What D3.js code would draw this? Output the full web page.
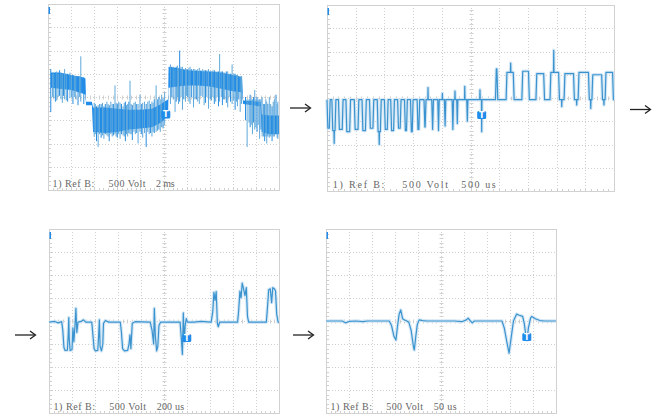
<!DOCTYPE html>
<html>
<head>
<meta charset="utf-8">
<script src="https://cdn.jsdelivr.net/npm/d3@7"></script>
<style>
body { margin: 0; background: #fff; }
svg { display: block; }
</style>
</head>
<body>
<script>
//Chart data (all in screen divisions: x 0..10, y -4..4)

const channelLabel = "1) Ref B:";
const voltLabel = "500 Volt";
const timeLabels = ["2 ms", "500 us", "200 us", "50 us"];

// panel 1: dense PWM band [x, top, bottom] + single spikes [x, y0, y1]
const p1Core = [
    [0.12, 1.05, 0.4], [0.5, 1.05, 0.35], [1.0, 0.95, 0.3], [1.5, 0.85, 0.15], [1.62, 0.8, 0.1],
    [1.65, -0.2, -0.35], [1.9, -0.2, -0.35], [1.95, -0.45, -1.5], [2.5, -0.45, -1.55],
    [3.0, -0.5, -1.5], [3.5, -0.55, -1.4], [4.0, -0.55, -1.35], [4.5, -0.5, -1.3],
    [4.9, -0.3, -1.1], [5.2, -0.1, -0.8], [5.22, 1.3, 0.4], [5.6, 1.25, 0.45], [6.0, 1.15, 0.5],
    [6.5, 1.12, 0.5], [7.0, 1.1, 0.45], [7.5, 1.05, 0.35], [8.0, 0.95, 0.25], [8.4, 0.85, 0.2],
    [8.45, -0.15, -0.3], [9.2, -0.2, -0.4], [9.25, -0.75, -1.5], [9.6, -0.8, -1.6], [10, -0.8, -1.6]
];
const p1Spikes = [
    [0.12, 1.2, -0.65], [0.2, 1.0, 0.0], [0.25, 1.0, -0.05], [0.32, 1.05, -0.2], [0.38, 1.1, -0.15],
    [0.44, 1.0, 0.0], [0.5, 1.15, 0.05], [0.56, 1.05, -0.1], [0.62, 1.0, -0.25], [0.67, 1.0, 0.05],
    [0.72, 1.2, -0.1], [0.79, 1.0, -0.15], [0.85, 1.0, -0.2], [0.95, 1.05, -0.05], [1.02, 0.95, 0.0],
    [1.08, 0.95, -0.3], [1.14, 0.9, 0.0], [1.2, 0.9, -0.1], [1.3, 0.9, -0.35], [1.36, 0.9, 0.0],
    [1.42, 1.75, -0.2], [1.55, 0.85, -0.3],
    [2.0, -0.25, -1.7], [2.05, -0.3, -1.6], [2.1, -0.4, -1.9], [2.17, -0.35, -2.15], [2.23, -0.3, -1.6],
    [2.3, -0.3, -1.75], [2.36, -0.25, -1.65], [2.42, -0.4, -1.8], [2.48, -0.3, -1.6], [2.55, -0.2, -1.65],
    [2.6, -0.3, -1.7], [2.65, -0.35, -1.9], [2.72, -0.2, -1.6], [2.78, -0.3, -1.7], [2.84, -0.3, -1.65],
    [2.9, 0.5, -1.6], [2.95, -0.25, -1.7], [3.0, -0.3, -1.75], [3.06, -0.2, -1.6], [3.12, -0.25, -1.8],
    [3.18, -0.3, -1.6], [3.25, -0.4, -1.65], [3.3, -0.25, -1.7], [3.35, -0.2, -1.9], [3.4, -0.35, -1.6],
    [3.45, -0.3, -1.7], [3.5, -0.2, -1.55], [3.55, 0.7, -1.6], [3.6, -0.3, -1.6], [3.65, -0.35, -1.85],
    [3.72, -0.25, -1.5], [3.78, -0.2, -1.6], [3.84, -0.3, -1.55], [3.9, -0.3, -2.0], [3.98, 0.1, -1.5],
    [4.04, -0.3, -1.6], [4.1, -0.25, -1.75], [4.18, -0.2, -1.55], [4.25, -0.3, -2.15], [4.32, -0.2, -1.5],
    [4.38, -0.15, -1.6], [4.44, -0.3, -1.55], [4.5, -0.2, -1.7], [4.55, -0.25, -1.5], [4.6, -0.1, -1.55],
    [4.68, 0.5, -1.5], [4.74, -0.1, -1.45], [4.8, 0.0, -1.4], [4.86, -0.1, -1.5], [4.92, 0.1, -1.3],
    [4.98, -0.05, -1.35], [5.05, 0.2, -1.2],
    [5.3, 1.4, -0.3], [5.36, 1.3, 0.0], [5.42, 1.3, -0.1], [5.5, 1.2, -0.64], [5.55, 1.3, -0.2],
    [5.6, 1.35, 0.0], [5.65, 1.25, -0.3], [5.7, 2.0, -0.2], [5.76, 1.3, 0.0], [5.82, 1.3, -0.55],
    [5.88, 1.2, -0.1], [5.95, 1.25, -0.2], [6.0, 1.2, 0.05], [6.05, 1.2, 0.0], [6.1, 1.25, -0.2],
    [6.15, 1.3, -0.3], [6.22, 1.2, 0.0], [6.3, 1.2, -0.45], [6.36, 1.2, -0.1], [6.42, 1.15, -0.1],
    [6.48, 1.2, -0.2], [6.55, 1.25, -0.3], [6.62, 1.15, 0.05], [6.7, 1.2, 0.0], [6.76, 1.15, -0.35],
    [6.82, 1.15, -0.25], [6.88, 1.15, 0.0], [6.95, 1.2, -0.5], [7.02, 1.1, -0.1], [7.08, 1.1, -0.15],
    [7.14, 1.15, 0.0], [7.2, 1.15, -0.3], [7.26, 1.1, -0.2], [7.32, 1.1, 0.0], [7.38, 1.1, -0.4],
    [7.43, 1.85, -0.2], [7.5, 1.1, 0.0], [7.55, 1.1, -0.35], [7.6, 1.05, -0.1], [7.65, 1.05, -0.1],
    [7.72, 1.1, -0.25], [7.78, 1.1, -0.45], [7.84, 1.0, 0.0], [7.9, 1.0, -0.2], [7.97, 1.4, -0.3],
    [8.04, 1.0, -0.15], [8.1, 1.0, -0.55], [8.16, 0.95, -0.2], [8.2, 0.95, -0.4], [8.26, 0.9, -0.1],
    [8.32, 0.9, -0.64], [8.38, 0.9, -0.3],
    [8.55, 0.0, -1.0], [8.62, -0.1, -2.15], [8.7, -0.1, -1.1], [8.75, 0.1, -1.3], [8.8, -0.1, -1.2],
    [8.85, -0.1, -1.6], [8.9, 0.0, -1.1], [8.95, 0.3, -1.4], [9.0, -0.1, -1.3], [9.05, 0.0, -1.5],
    [9.1, -0.1, -1.2], [9.16, -0.1, -1.8], [9.22, -0.1, -1.4], [9.27, 0.0, -1.7], [9.33, -0.3, -1.7],
    [9.38, -0.3, -1.9], [9.43, -0.1, -1.7], [9.47, -0.2, -2.0], [9.52, -0.3, -1.7], [9.58, 0.0, -1.75],
    [9.64, -0.3, -1.7], [9.7, -0.4, -1.9], [9.75, -0.2, -1.7], [9.8, -0.1, -1.7], [9.87, 0.1, -1.5],
    [9.92, -0.3, -1.75], [9.95, -0.2, -1.8]
];

// panel 2: square pulses [start, end, level] on a base level, plus spikes [x, y]
const p2Base = -0.07;
const p2Pulses = [
    [0.0, 0.11, -1.3], [0.17, 0.31, -1.4], [0.40, 0.56, -1.35], [0.66, 0.82, -1.45], [0.95, 1.11, -1.35],
    [1.22, 1.37, -1.4], [1.48, 1.63, -1.3], [1.75, 1.89, -1.45], [2.0, 2.13, -1.35], [2.22, 2.35, -1.4],
    [2.46, 2.58, -1.3], [2.70, 2.80, -1.4], [2.91, 3.0, -1.45], [3.14, 3.23, -1.35], [3.38, 3.45, -1.25],
    [3.65, 3.71, -1.35], [3.86, 3.91, -1.4], [4.09, 4.14, -1.2], [4.36, 4.41, -1.35], [4.52, 4.56, -1.1],
    [4.87, 4.91, -1.0],
    [5.87, 5.95, 1.25], [6.24, 6.52, 1.1], [6.79, 7.05, 1.15], [7.28, 7.58, 1.05], [7.77, 8.1, 1.1],
    [8.26, 8.62, 1.05], [8.75, 9.14, 1.1], [9.23, 9.6, 1.0], [9.69, 9.98, 1.1]
];
const p2Spikes = [
    [0.25, -1.95], [1.82, -2.0], [3.52, 0.45], [4.02, 0.2], [4.46, 0.3], [4.8, 0.5], [5.33, 0.35],
    [5.39, -1.45], [6.4, 1.5], [7.9, 2.05], [8.18, -0.37], [8.7, -0.3], [9.19, -0.45], [9.65, -0.3]
];

// panel 3 and 4: single traces [x, y]
const p3Trace = [
    [0, -0.05], [0.25, -0.02], [0.4, -0.08], [0.55, -0.03],
    [0.6, -0.4], [0.65, -1.15], [0.7, -1.28], [0.8, -1.27], [0.84, -0.5], [0.86, 0.15], [0.88, -0.8],
    [0.92, -1.28], [1.0, -1.25], [1.04, -0.3], [1.08, -0.9], [1.13, -0.2], [1.17, 0.55], [1.21, -0.5], [1.26, -0.05],
    [1.4, -0.02], [1.5, 0.05], [1.6, -0.05], [1.86, -0.05],
    [1.9, -0.5], [1.96, -1.2], [2.02, -1.3], [2.12, -1.28], [2.16, -0.6], [2.19, 0.05], [2.22, -1.1],
    [2.28, -1.3], [2.34, -1.0], [2.37, -0.1], [2.45, 0.02], [2.6, -0.05],
    [3.1, -0.05], [3.15, -0.5], [3.2, -1.2], [3.28, -1.3], [3.42, -1.28], [3.48, -1.0], [3.52, -0.6],
    [3.56, -1.2], [3.62, -0.1], [3.75, -0.03],
    [4.4, -0.05], [4.48, -0.4], [4.55, -1.0], [4.58, 0.55], [4.62, -0.6], [4.68, -1.3], [4.73, -1.1],
    [4.78, -0.2], [4.85, -0.05],
    [5.7, -0.05], [5.75, -0.7], [5.8, -1.45], [5.84, 0.35], [5.88, -0.9], [5.92, -0.2], [5.97, 0.1], [6.02, -0.05],
    [6.3, -0.05], [6.6, -0.02], [7.05, -0.05], [7.12, 0.4], [7.17, 1.25], [7.22, 0.9], [7.27, 1.28],
    [7.32, -0.1], [7.36, -0.25], [7.42, -0.05],
    [8.2, -0.05], [8.25, 0.5], [8.3, 1.3], [8.35, 1.0], [8.4, 1.65], [8.46, 1.4], [8.52, 1.1], [8.58, 1.45],
    [8.63, 0.2], [8.68, -0.05],
    [9.45, -0.05], [9.5, 0.6], [9.55, 1.35], [9.62, 1.4], [9.68, 0.8], [9.73, 1.45], [9.8, 1.4], [9.85, 1.3],
    [9.9, 0.3], [9.96, -0.05], [10, -0.05]
];
const p4Trace = [
    [0, 0], [0.7, 0], [0.85, -0.08], [1.0, -0.02], [1.3, 0], [1.6, -0.03], [1.8, 0], [2.75, 0],
    [2.85, -0.2], [2.95, -0.65], [3.04, -0.83], [3.1, -0.3], [3.18, 0.3], [3.25, 0.48], [3.33, 0.1],
    [3.4, 0.05], [3.47, 0.02], [3.6, -0.05], [3.7, -0.4], [3.8, -1.1], [3.84, -1.26], [3.9, -0.7],
    [3.97, -0.15], [4.05, 0.05], [4.2, 0.02], [4.4, 0], [5.6, 0], [5.9, -0.03], [6.1, 0.05], [6.18, 0.12],
    [6.28, 0.0], [6.36, -0.08], [6.45, 0], [7.0, 0], [7.65, 0], [7.75, -0.3], [7.88, -1.0], [7.96, -1.4],
    [8.04, -0.8], [8.15, 0.0], [8.29, 0.3], [8.4, 0.25], [8.55, 0.2], [8.62, -0.1], [8.7, -0.7],
    [8.74, -0.83], [8.8, -0.3], [8.9, 0.15], [8.95, 0.2], [9.1, 0.1], [9.3, 0.02], [9.5, 0], [10, 0]
];

// trigger marker position per panel [x, y]
const triggers = [[5.1, -0.75], [5.39, -0.73], [5.99, -0.74], [8.73, -0.7]];

//Layout

var frames = [
    {x0: 48, x1: 279, y0: 4, y1: 190},
    {x0: 327, x1: 614, y0: 5, y1: 191},
    {x0: 49, x1: 279, y0: 229, y1: 413},
    {x0: 326, x1: 556, y0: 229, y1: 413}
];
var arrows = [
    {x: 290, y: 108}, {x: 630, y: 109.5}, {x: 15, y: 335}, {x: 293, y: 335}
];

var traceColor = "#3a93cf";
var bright = "#1f8cec";

var svg = d3.select("body")
    .append("svg")
    .attr("width", 652)
    .attr("height", 414);

svg.append("rect").attr("width", 652).attr("height", 414).attr("fill", "#fff");

//Drawing the screens

var panels = frames.map(function (f, i) {
    var x = d3.scaleLinear().domain([0, 10]).range([f.x0, f.x1]);
    var y = d3.scaleLinear().domain([-4, 4]).range([f.y1, f.y0]);
    var g = svg.append("g").attr("class", "panel" + (i + 1));
    drawScreen(g, x, y, f);
    return {g: g, x: x, y: y, f: f};
});

function drawScreen(g, x, y, f) {
    g.append("rect")
        .attr("x", f.x0 + 0.5).attr("y", f.y0 + 0.5)
        .attr("width", f.x1 - f.x0).attr("height", f.y1 - f.y0)
        .attr("fill", "#fff")
        .attr("stroke", "#d2d2d2");

    g.append("g").selectAll("line")
        .data(d3.range(1, 10))
        .enter().append("line")
        .attr("x1", d => Math.round(x(d)) + 0.5).attr("x2", d => Math.round(x(d)) + 0.5)
        .attr("y1", f.y0).attr("y2", f.y1)
        .attr("stroke", "#cfcfcf")
        .attr("stroke-dasharray", "1,2");

    g.append("g").selectAll("line")
        .data(d3.range(-3, 4))
        .enter().append("line")
        .attr("y1", d => Math.round(y(d)) + 0.5).attr("y2", d => Math.round(y(d)) + 0.5)
        .attr("x1", f.x0).attr("x2", f.x1)
        .attr("stroke", "#cfcfcf")
        .attr("stroke-dasharray", "1,2");

    // minor ticks on the centre axes and along the border
    var xt = d3.range(0, 10.01, 0.2);
    var yt = d3.range(-4, 4.01, 0.2);
    var ticks = g.append("g").attr("stroke", "#d0d0d0");
    ticks.selectAll(".cx").data(xt).enter().append("line")
        .attr("x1", d => Math.round(x(d)) + 0.5).attr("x2", d => Math.round(x(d)) + 0.5)
        .attr("y1", Math.round(y(0)) - 1.5).attr("y2", Math.round(y(0)) + 2.5);
    ticks.selectAll(".cy").data(yt).enter().append("line")
        .attr("y1", d => Math.round(y(d)) + 0.5).attr("y2", d => Math.round(y(d)) + 0.5)
        .attr("x1", Math.round(x(5)) - 1.5).attr("x2", Math.round(x(5)) + 2.5);
    ticks.selectAll(".bx").data(xt).enter().append("line")
        .attr("x1", d => Math.round(x(d)) + 0.5).attr("x2", d => Math.round(x(d)) + 0.5)
        .attr("y1", f.y1 - 2).attr("y2", f.y1);
    ticks.selectAll(".by").data(yt).enter().append("line")
        .attr("y1", d => Math.round(y(d)) + 0.5).attr("y2", d => Math.round(y(d)) + 0.5)
        .attr("x1", f.x0 + 1).attr("x2", f.x0 + 3);

    // channel marker at the top-left corner
    g.append("rect")
        .attr("x", f.x0 + 0.5).attr("y", f.y0 + 3)
        .attr("width", 1.5).attr("height", 7)
        .attr("fill", bright);
}

//Panel 1: dense PWM

var P = panels[0];
P.g.append("path")
    .datum(p1Core)
    .attr("d", d3.area().x(d => P.x(d[0])).y0(d => P.y(d[2])).y1(d => P.y(d[1])))
    .attr("fill", bright);
P.g.append("g").selectAll("line")
    .data(p1Spikes)
    .enter().append("line")
    .attr("x1", d => P.x(d[0])).attr("x2", d => P.x(d[0]))
    .attr("y1", d => P.y(d[1])).attr("y2", d => P.y(d[2]))
    .attr("stroke", (d, i) => i % 3 ? "#5fa8da" : "#2a8ddf")
    .attr("stroke-width", 1);

//Panel 2: pulses with sloped edges

var edge = 0.03;
function levelAt(t) {
    for (var i = 0; i < p2Pulses.length; i++) {
        var s = p2Pulses[i][0], e = p2Pulses[i][1], v = p2Pulses[i][2];
        var k = Math.min(edge, (e - s) / 2);
        if (t < s || t > e) continue;
        if (t < s + k) return p2Base + (v - p2Base) * (t - s) / k;
        if (t > e - k) return p2Base + (v - p2Base) * (e - t) / k;
        return v;
    }
    return p2Base;
}
var xs = [0, 10];
p2Pulses.forEach(function (p) {
    var k = Math.min(edge, (p[1] - p[0]) / 2);
    xs.push(p[0], p[0] + k, p[1] - k, p[1]);
});
p2Spikes.forEach(s => xs.push(s[0] - 0.008, s[0] + 0.008));
var p2Points = xs.map(t => [t, levelAt(t)]);
p2Spikes.forEach(s => p2Points.push([s[0], s[1]]));
p2Points.sort((a, b) => a[0] - b[0]);

drawTrace(panels[1], p2Points);
drawTrace(panels[2], p3Trace);
drawTrace(panels[3], p4Trace);

function drawTrace(P, pts) {
    var line = d3.line().x(d => P.x(d[0])).y(d => P.y(d[1]));
    P.g.append("path").datum(pts)
        .attr("d", line)
        .attr("fill", "none")
        .attr("stroke", "#d6e8f5")
        .attr("stroke-width", 3.5)
        .attr("stroke-linejoin", "round");
    P.g.append("path").datum(pts)
        .attr("d", line)
        .attr("fill", "none")
        .attr("stroke", traceColor)
        .attr("stroke-width", 1.2)
        .attr("stroke-linejoin", "round");
}

//Trigger markers and captions

panels.forEach(function (P, i) {
    var tx = P.x(triggers[i][0]), ty = P.y(triggers[i][1]);
    P.g.append("rect")
        .attr("x", tx - 4.5).attr("y", ty - 4)
        .attr("width", 9).attr("height", 8)
        .attr("rx", 1.5)
        .attr("fill", bright);
    P.g.append("text")
        .attr("x", tx).attr("y", ty + 3)
        .attr("text-anchor", "middle")
        .attr("font-family", "DejaVu Sans")
        .attr("font-weight", "bold")
        .attr("font-size", 8)
        .attr("fill", "#fff")
        .text("T");

    var unit = P.x(1) - P.x(0);
    var cap = P.g.append("g")
        .attr("font-family", "Liberation Serif")
        .attr("font-size", 10)
        .attr("fill", "#666");
    [[channelLabel, 0.2], [voltLabel, 2.62], [timeLabels[i], 4.68]].forEach(function (t) {
        cap.append("text")
            .attr("x", P.x(t[1]))
            .attr("y", P.y(-3.88))
            .attr("textLength", t[0].length * 0.2 * unit)
            .attr("lengthAdjust", "spacing")
            .text(t[0]);
    });
});

//Arrows between the screens

var ag = svg.append("g")
    .attr("stroke", "#222")
    .attr("stroke-width", 1.3)
    .attr("fill", "none");
arrows.forEach(function (a) {
    ag.append("line").attr("x1", a.x).attr("x2", a.x + 20).attr("y1", a.y).attr("y2", a.y);
    ag.append("path").attr("d", "M" + (a.x + 15) + "," + (a.y - 4) + "L" + (a.x + 20.5) + "," + a.y + "L" + (a.x + 15) + "," + (a.y + 4));
});
</script>
</body>
</html>
